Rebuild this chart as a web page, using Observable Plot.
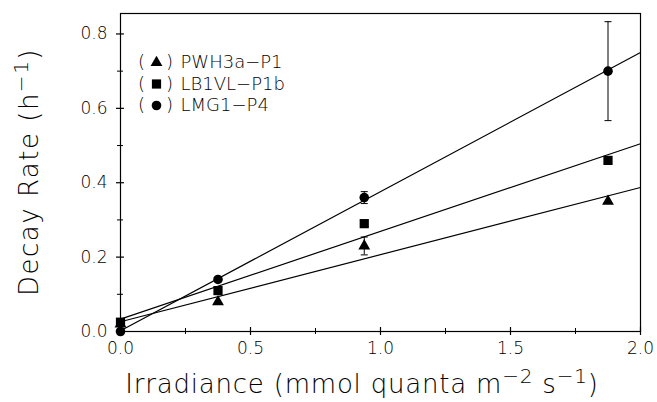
<!DOCTYPE html>
<html><head><meta charset="utf-8">
<script src="https://cdn.jsdelivr.net/npm/d3@7"></script>
<script src="https://cdn.jsdelivr.net/npm/@observablehq/plot@0.6"></script>
<style>body{margin:0;background:#fff}svg{display:block}</style>
</head><body><div id="chart"></div>
<script>
const irradiance = [0, 0.375, 0.9375, 1.875];
const seriesNames = ["PWH3a\u2212P1", "LB1VL\u2212P1b", "LMG1\u2212P4"];
const seriesSymbols = ["triangle", "square", "circle"];
const rateP1 = [0.02, 0.08, 0.23, 0.35];
const rateP1b = [0.025, 0.11, 0.29, 0.46];
const rateP4 = [0.0, 0.14, 0.36, 0.70];
const errP1 = [0, 0, 0.024, 0];
const errP1b = [0, 0, 0, 0];
const errP4 = [0, 0, 0.016, 0.133];
const xDomain = [0, 2];
const yDomain = [0, 0.855];
const xTicks = [0, 0.5, 1, 1.5, 2];
const xMinor = [0.25, 0.75, 1.25, 1.75];
const yTicks = [0, 0.2, 0.4, 0.6, 0.8];
const yMinor = [0.1, 0.3, 0.5, 0.7];

const rates = [rateP1, rateP1b, rateP4];
const errs = [errP1, errP1b, errP4];
const symbolR = {triangle: 4.4, square: 5.2, circle: 4.8};

const points = [];
rates.forEach((r, s) => irradiance.forEach((x, i) => points.push({s, x, y: r[i], e: errs[s][i]})));

function fit(xs, ys) {
  const mx = d3.mean(xs), my = d3.mean(ys);
  const sxy = d3.sum(xs, (x, i) => (x - mx) * (ys[i] - my));
  const sxx = d3.sum(xs, x => (x - mx) ** 2);
  const b = sxy / sxx;
  return {a: my - b * mx, b};
}
const fitLines = [];
rates.forEach((r, s) => {
  const {a, b} = fit(irradiance, r);
  xDomain.forEach(x => fitLines.push({s, x, y: a + b * x}));
});
const errData = points.filter(d => d.e > 0);

const capSymbol = {draw(ctx, size) { const w = 3.5; ctx.moveTo(-w, 0); ctx.lineTo(w, 0); }};

const FONT = "'DejaVu Sans', sans-serif";
const FW = 200;
const ML = 120, MR = 17, MT = 13, MB = 71, W = 657, H = 402;

const legendMarks = [];
seriesNames.forEach((name, i) => {
  const dy = 49 + i * 21.5;
  const sym = seriesSymbols[i];
  legendMarks.push(
    Plot.text(["("], {frameAnchor: "top-left", dx: 21, dy, text: d => d, fontSize: 18, fill: "black", textAnchor: "middle", lineAnchor: "middle"}),
    Plot.dot([0], {frameAnchor: "top-left", dx: 36, dy, symbol: sym, fill: "black", stroke: "none", r: symbolR[sym]}),
    Plot.text([")"], {frameAnchor: "top-left", dx: 49, dy, text: d => d, fontSize: 18, fill: "black", textAnchor: "middle", lineAnchor: "middle"}),
    Plot.text([name], {frameAnchor: "top-left", dx: 60, dy, text: d => d, fontSize: 18, fill: "black", textAnchor: "start", lineAnchor: "middle"})
  );
});

const pointMarks = seriesSymbols.map((sym, s) =>
  Plot.dot(points.filter(d => d.s === s), {x: "x", y: "y", symbol: sym, fill: "black", stroke: "none", r: symbolR[sym]})
);

const plot = Plot.plot({
  width: W, height: H,
  marginLeft: ML, marginRight: MR, marginTop: MT, marginBottom: MB,
  style: {fontFamily: FONT, fontSize: "17px", color: "black", background: "white", fontWeight: FW},
  x: {domain: xDomain, label: null},
  y: {domain: yDomain, label: null},
  marks: [
    Plot.frame({stroke: "black", strokeWidth: 1.2}),
    Plot.axisX({ticks: xTicks, tickSize: 8, dy: -4, tickFormat: () => "", label: null, strokeWidth: 1.2}),
    Plot.axisX({ticks: xMinor, tickSize: 6, dy: -3, tickFormat: () => "", label: null, strokeWidth: 1}),
    Plot.axisX({ticks: xTicks, tickSize: 0, tickPadding: 10, tickFormat: d3.format(".1f"), label: null, fontSize: 17, fill: "black"}),
    Plot.axisY({ticks: yTicks, tickSize: 8, dx: 4, tickFormat: () => "", label: null, strokeWidth: 1.2}),
    Plot.axisY({ticks: yMinor, tickSize: 6, dx: 3, tickFormat: () => "", label: null, strokeWidth: 1}),
    Plot.axisY({ticks: yTicks, tickSize: 0, tickPadding: 13, tickFormat: d3.format(".1f"), label: null, fontSize: 17, fill: "black"}),
    Plot.line(fitLines, {x: "x", y: "y", z: "s", stroke: "black", strokeWidth: 1.2}),
    Plot.ruleX(errData, {x: "x", y1: d => d.y - d.e, y2: d => d.y + d.e, stroke: "black", strokeWidth: 1}),
    Plot.dot(errData, {x: "x", y: d => d.y - d.e, symbol: capSymbol, stroke: "black", strokeWidth: 1}),
    Plot.dot(errData, {x: "x", y: d => d.y + d.e, symbol: capSymbol, stroke: "black", strokeWidth: 1}),
    ...pointMarks,
    ...legendMarks
  ]
});

const svg = d3.select(plot);
// x axis title with superscripts
const xt = svg.append("text").attr("x", 362).attr("y", 393).attr("text-anchor", "middle")
  .attr("font-family", FONT).attr("font-size", 26).attr("font-weight", FW).attr("fill", "black")
  .attr("letter-spacing", 0.8);
xt.append("tspan").text("Irradiance (mmol quanta m");
xt.append("tspan").attr("dy", -10).attr("font-size", 20).text("\u22122");
xt.append("tspan").attr("dy", 10).text(" s");
xt.append("tspan").attr("dy", -10).attr("font-size", 20).text("\u22121");
xt.append("tspan").attr("dy", 10).text(")");
// y axis title
const yt = svg.append("text").attr("transform", `translate(38,${(MT + H - MB) / 2}) rotate(-90)`).attr("text-anchor", "middle")
  .attr("font-family", FONT).attr("font-size", 26).attr("font-weight", FW).attr("fill", "black")
  .attr("letter-spacing", 1.5);
yt.append("tspan").text("Decay Rate (h");
yt.append("tspan").attr("dy", -10).attr("font-size", 20).text("\u22121");
yt.append("tspan").attr("dy", 10).text(")");

document.getElementById("chart").appendChild(plot);
</script>
</body></html>
